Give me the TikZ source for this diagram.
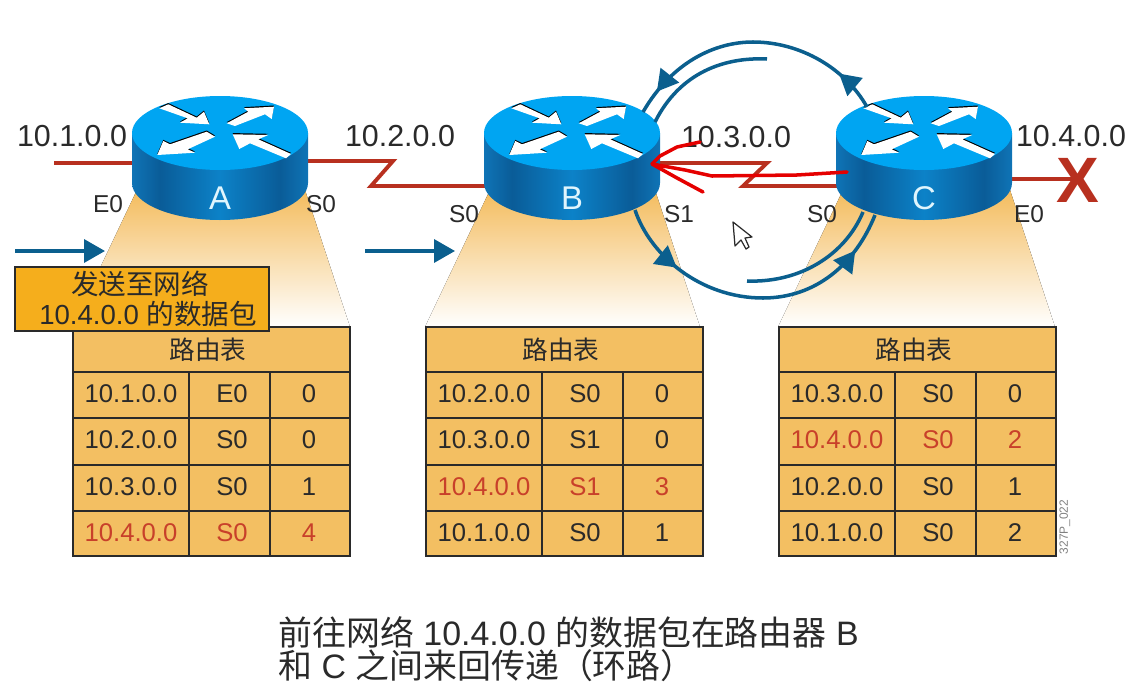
\documentclass[tikz,border=0pt]{standalone}
\usepackage{fontspec}
\setmainfont{Liberation Sans}
\newfontfamily\cjk{Noto Sans CJK SC}
\usepackage{xcolor}
\usetikzlibrary{arrows.meta, decorations.markings}

\definecolor{linkred}{HTML}{B8301F}
\definecolor{flowblue}{HTML}{0B5F8E}
\definecolor{tabfill}{HTML}{F3BF62}
\definecolor{boxfill}{HTML}{F5AE1C}
\definecolor{inkdark}{HTML}{2A2A2A}
\definecolor{rowred}{HTML}{C8402A}
\definecolor{routertop}{HTML}{00A5F2}
\definecolor{sideedge}{HTML}{0F74B6}
\definecolor{sidedark}{HTML}{0A5C98}
\definecolor{sidelight}{HTML}{0C82C8}
\pgfdeclarehorizontalshading{routerside}{100bp}{
  color(0bp)=(sideedge); color(25bp)=(sideedge); color(33bp)=(sidedark);
  color(50bp)=(sidelight); color(67bp)=(sidedark); color(75bp)=(sideedge);
  color(100bp)=(sideedge)}

\tikzset{
  flowtip/.tip={Stealth[length=4.2mm,width=4.6mm,inset=0pt]},
  netlabel/.style={inkdark, font=\fontsize{17.3}{20}\selectfont},
  portlabel/.style={inkdark, font=\fontsize{13.9}{16}\selectfont},
  cell/.style={font=\fontsize{14.6}{17}\selectfont},
  link/.style={linkred, line width=2.2pt},
  flow/.style={flowblue, line width=2pt},
  scribble/.style={red!90!black, line width=2pt, line cap=round, line join=round},
  captionline/.style={anchor=west, inner sep=0pt, inkdark, font=\fontsize{19.3}{22}\selectfont}
}

\newcommand{\routerlid}{
  \foreach \shifty/\ink in {1.2/black, 0/white} {
    \begin{scope}[yshift=\shifty*0.02cm]
      \fill[\ink] (-60.7,-24.7) -- (-51.7,-28.7) -- (-23.3,-15.3) -- (-16,-21.3) -- (-10.7,-8.7) -- (-40,-10.3) -- (-32.3,-14.7) -- cycle;
      \fill[\ink] (6.7,-9.7) -- (28.3,-21.3) -- (24,-24.7) -- (54,-26.3) -- (51.7,-14) -- (45,-18.7) -- (15,-7) -- cycle;
      \fill[\ink] (-13.3,-1.3) -- (-5,3.7) -- (-32.3,16.3) -- (-25,19.7) -- (-62.7,22) -- (-56.7,8) -- (-50,11.3) -- cycle;
      \fill[\ink] (12.7,1.3) -- (48.3,2) -- (38.3,6.3) -- (71,21) -- (66,25.3) -- (30,10.3) -- (19.3,16) -- cycle;
    \end{scope}
  }
}

% #1 left edge, #2 to #5 the rows as net/port/cost/colour
\newcommand{\routetable}[5]{
  \fill[tabfill] (#1,327) rectangle ++(277,229);
  \draw[inkdark, line width=1.1pt] (#1,327) rectangle ++(277,229);
  \foreach \rowy in {372,418,465,511}
    \draw[inkdark, line width=1.1pt] (#1,\rowy) -- ++(277,0);
  \foreach \colx in {116,197}
    \draw[inkdark, line width=1.1pt] (#1+\colx,372) -- (#1+\colx,556);
  \node[cell, inkdark] (title#1) at (#1+135,350) {\cjk 路由表};
  \foreach \net/\port/\cost/\ink [count=\r] in {#2,#3,#4,#5} {
    \node[cell, \ink] (net#1-\r) at (#1+58,347+46.4*\r) {\net};
    \node[cell, \ink] (port#1-\r) at (#1+159,347+46.4*\r) {\port};
    \node[cell, \ink] (cost#1-\r) at (#1+236,347+46.4*\r) {\cost};
  }
}

\begin{document}
\begin{tikzpicture}[x=0.02cm, y=-0.02cm]
  \useasboundingbox (0,0) rectangle (1142,693);

  %
  \foreach \fanl/\fanr in {137/305, 490/655, 843/1010}
    \fill[top color=tabfill!95!orange, bottom color=white, shading angle=0]
      (\fanl,190) -- (\fanr,190) -- (\fanr+45,327) -- (\fanl-65,327) -- cycle;

  \routetable{73}{10.1.0.0/E0/0/inkdark}{10.2.0.0/S0/0/inkdark}{10.3.0.0/S0/1/inkdark}{10.4.0.0/S0/4/rowred}
  \routetable{426}{10.2.0.0/S0/0/inkdark}{10.3.0.0/S1/0/inkdark}{10.4.0.0/S1/3/rowred}{10.1.0.0/S0/1/inkdark}
  \routetable{779}{10.3.0.0/S0/0/inkdark}{10.4.0.0/S0/2/rowred}{10.2.0.0/S0/1/inkdark}{10.1.0.0/S0/2/inkdark}

  \coordinate (netonefree) at (54,163);
  \coordinate (a-west) at (140,163);
  \coordinate (a-east) at (300,161);
  \coordinate (b-west) at (495,186);
  \coordinate (b-east) at (650,163);
  \coordinate (c-west) at (846,186);
  \coordinate (c-east) at (1005,179);
  \coordinate (crossat) at (1075,179);

  \draw[link] (netonefree) -- (a-west);
  \draw[link] (a-east) -- (393,161) -- (371,186) -- (b-west);
  \draw[link] (b-east) -- (767,163) -- (743,186) -- (c-west);
  \draw[link] (c-east) -- (crossat);
  \node[text=linkred, font=\fontsize{36.5}{40}\selectfont\bfseries] (cross) at (1078,180) {X};

  \foreach \name/\cx in {A/220, B/572, C/924} {
    \begin{scope}[shift={(\cx,133)}]
      \shade[shading=routerside] (-88,0) -- (-88,50)
        arc[start angle=180, end angle=0, x radius=88, y radius=37] -- (88,0) -- cycle;
      \fill[routertop] (0,0) ellipse[x radius=88, y radius=37];
      \routerlid
      \node[text=cyan!12, font=\fontsize{18.7}{22}\selectfont] (router\name) at (0,65) {\name};
    \end{scope}
  }

  \node[netlabel] (netone) at (72,136) {10.1.0.0};
  \node[netlabel] (nettwo) at (400,136) {10.2.0.0};
  \node[netlabel] (netthree) at (736,137) {10.3.0.0};
  \node[netlabel] (netfour) at (1071,136) {10.4.0.0};

  \node[portlabel] (aezero) at (108,204) {E0};
  \node[portlabel] (aszero) at (321,204) {S0};
  \node[portlabel] (bszero) at (464,214) {S0};
  \node[portlabel] (bsone) at (679,214) {S1};
  \node[portlabel] (cszero) at (822,214) {S0};
  \node[portlabel] (cezero) at (1029,214) {E0};

  \coordinate (inafree) at (15,251);
  \coordinate (inatip) at (105,251);
  \coordinate (inbfree) at (365,251);
  \coordinate (inbtip) at (455,251);
  \draw[flow, -flowtip] (inafree) -- (inatip);
  \draw[flow, -flowtip] (inbfree) -- (inbtip);

  \node[draw=inkdark, line width=1.1pt, fill=boxfill, minimum width=254*0.02cm, minimum height=64*0.02cm,
        inner sep=0pt, align=center, font=\fontsize{15.7}{17}\selectfont, text=inkdark] (packet) at (142,299)
    {{\cjk 发送至网络}\hspace*{2.3pt}\\\hspace*{7pt}10.4.0.0 {\cjk 的数据包}};

  %
  \coordinate (ctop) at (867,107);
  \coordinate (btopout) at (643,112);
  \coordinate (btopin) at (655,122);
  \coordinate (topfree) at (767,59);
  \coordinate (bbot) at (635,210);
  \coordinate (cbotout) at (875,215);
  \coordinate (cbotin) at (863,212);
  \coordinate (botfree) at (747,281);
  \draw[flow, postaction=decorate, decoration={markings,
      mark=at position .16 with {\arrow{flowtip}}, mark=at position .91 with {\arrow{flowtip}}}]
    (ctop) .. controls (845,68) and (800,42) .. (753,42) .. controls (715,42) and (672,62) .. (btopout);
  \draw[flow] (topfree) .. controls (725,57) and (680,72) .. (btopin);
  \draw[flow, postaction=decorate, decoration={markings,
      mark=at position .23 with {\arrow{flowtip}}, mark=at position .87 with {\arrow{flowtip}}}]
    (bbot) .. controls (650,255) and (700,298) .. (763,298) .. controls (815,298) and (855,265) .. (cbotout);
  \draw[flow] (botfree) .. controls (800,283) and (845,255) .. (cbotin);

  %
  \draw[scribble] (847,172) -- (797,175) -- (712,176) -- (685,170) -- (652,164) -- (677,178) -- (703,192);
  \draw[scribble] (652,164) -- (660,156) -- (677,147) -- (700,142);

  \draw[fill=white, draw=inkdark, line width=0.7pt, line join=round]
    (733,222) -- (735,246) -- (741,240) -- (746,249) -- (749,247) -- (745,238) -- (752,237) -- cycle;

  \node[rotate=90, text=gray, font=\fontsize{6.8}{8}\selectfont] (figcode) at (1065,527) {327P\_022};

  \node[captionline] (captionone) at (278,632)
    {{\cjk 前往网络} 10.4.0.0 {\cjk 的数据包在路由器} B};
  \node[captionline] (captiontwo) at (278,666)
    {{\cjk 和} C {\cjk 之间来回传递（环路）}};
\end{tikzpicture}
\end{document}
